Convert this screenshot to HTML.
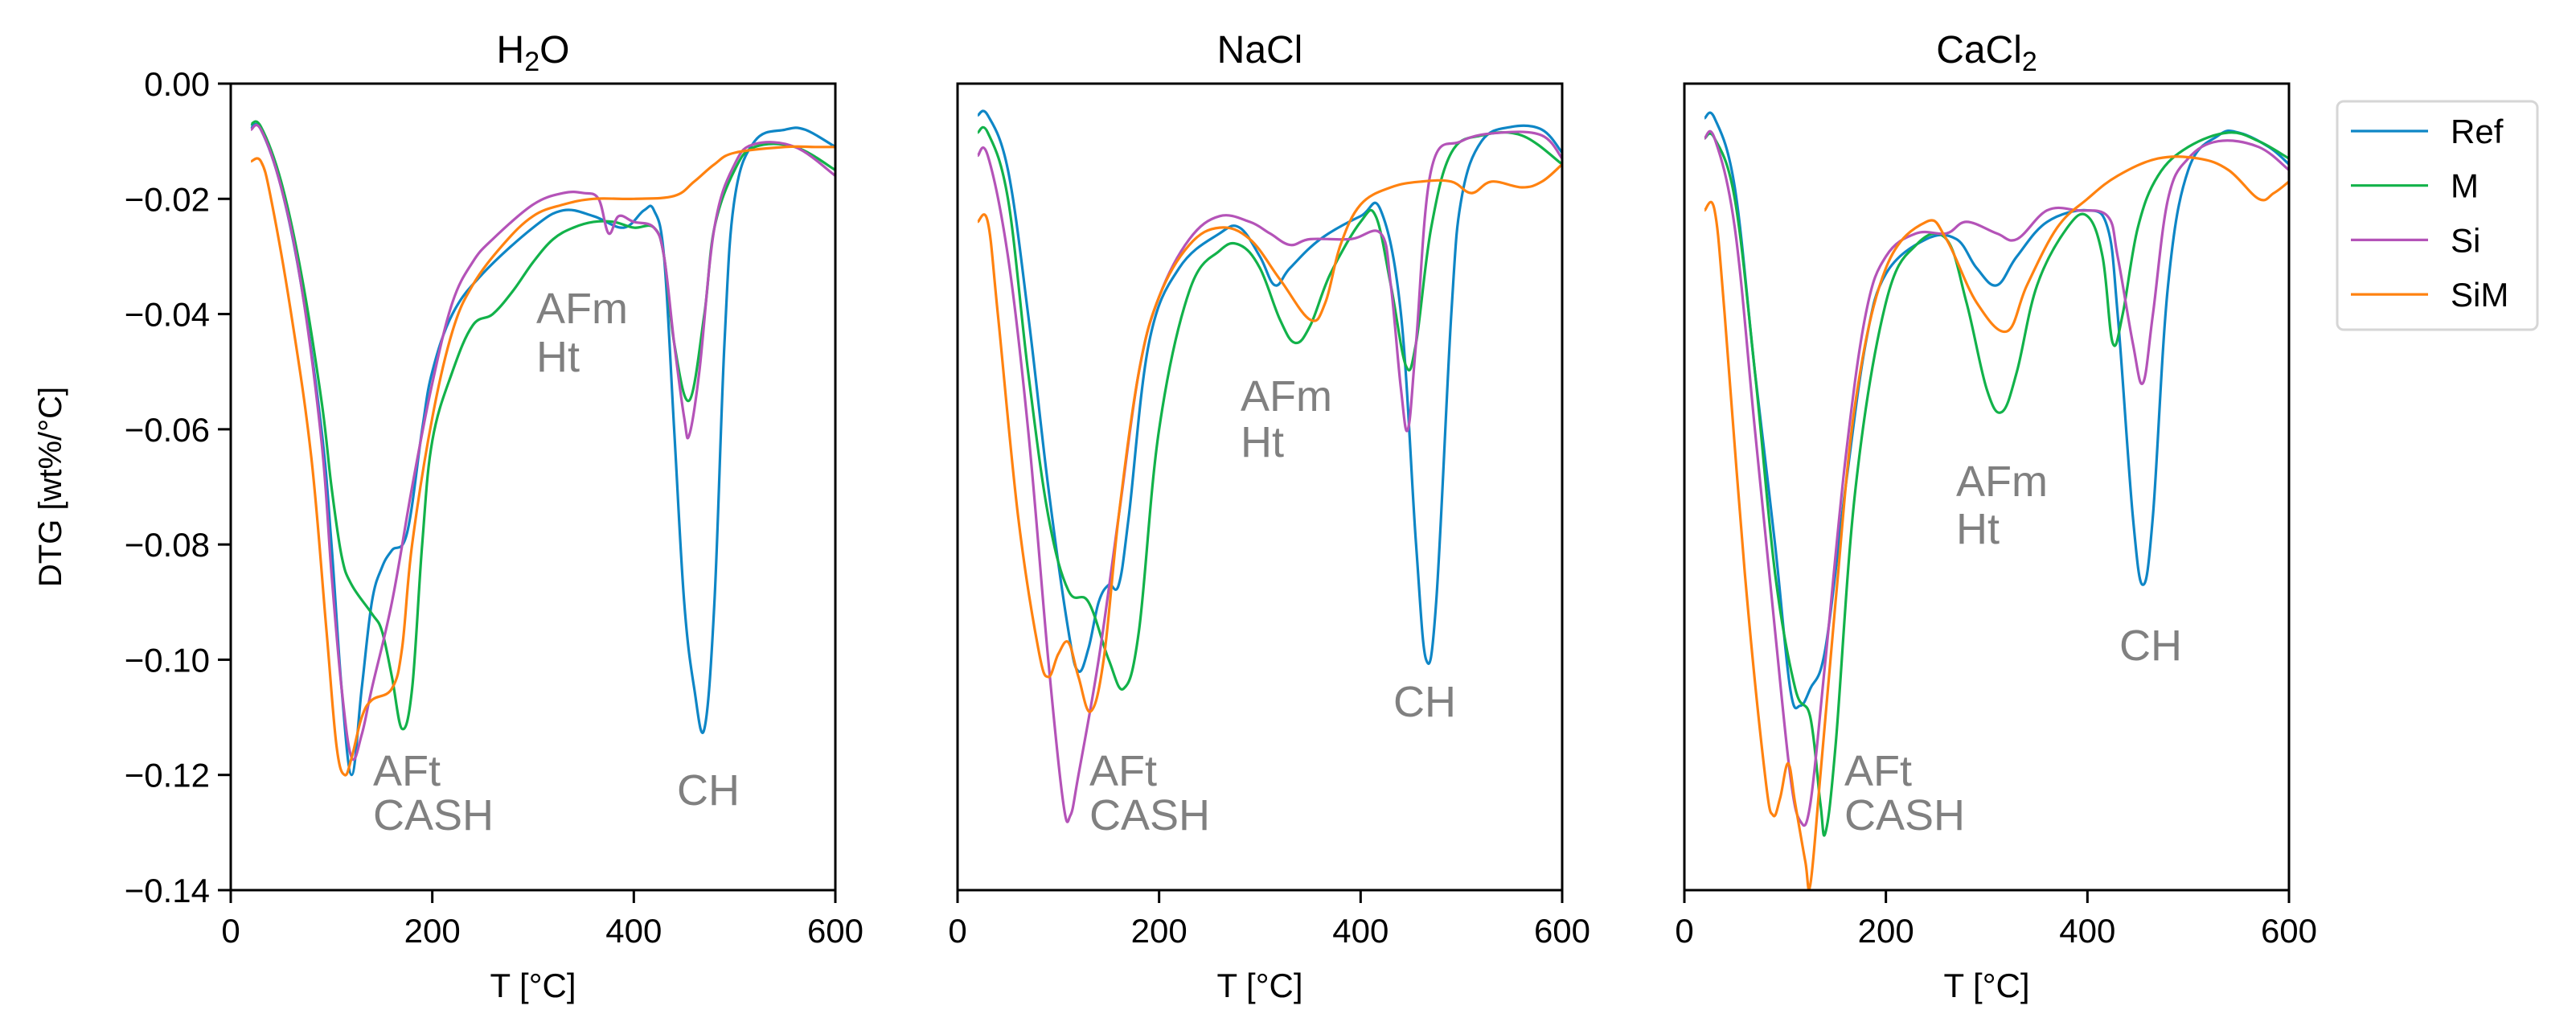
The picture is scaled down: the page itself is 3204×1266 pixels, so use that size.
<!DOCTYPE html>
<html><head><meta charset="utf-8"><style>
body{margin:0;background:#fff}
svg{display:block;font-family:"Liberation Sans","DejaVu Sans",sans-serif}
</style></head><body>
<svg id="chart" width="3204" height="1266" viewBox="0 0 3204 1266" xmlns="http://www.w3.org/2000/svg"></svg>
<script>
const seriesNames=["Ref","M","Si","SiM"];
const seriesColors=["#0e86c6","#12b24a","#b453b8","#ff8210"];
const panelTitles=["H2O","NaCl","CaCl2"];
const xTicks=[0,200,400,600];
const yTicks=[0,-0.02,-0.04,-0.06,-0.08,-0.10,-0.12,-0.14];
const yTickLabels=["0.00","−0.02","−0.04","−0.06","−0.08","−0.10","−0.12","−0.14"];
// H2O
const h2oRef=[[20,-0.0075],[30,-0.008],[50,-0.018],[70,-0.035],[90,-0.06],[100,-0.08],[110,-0.105],[120,-0.12],[130,-0.105],[140,-0.09],[150,-0.084],[160,-0.081],[175,-0.078],[190,-0.06],[200,-0.05],[220,-0.04],[250,-0.033],[300,-0.025],[330,-0.022],[360,-0.023],[390,-0.025],[410,-0.022],[420,-0.022],[430,-0.03],[440,-0.06],[450,-0.09],[460,-0.105],[470,-0.112],[480,-0.09],[490,-0.045],[500,-0.02],[520,-0.01],[550,-0.008],[570,-0.008],[600,-0.011]];
const h2oM=[[20,-0.007],[30,-0.0075],[50,-0.017],[70,-0.033],[90,-0.055],[100,-0.07],[110,-0.082],[120,-0.087],[140,-0.092],[150,-0.095],[160,-0.103],[170,-0.112],[180,-0.105],[190,-0.08],[200,-0.062],[220,-0.05],[240,-0.042],[260,-0.04],[280,-0.036],[300,-0.031],[320,-0.027],[340,-0.025],[360,-0.024],[380,-0.024],[400,-0.025],[420,-0.025],[430,-0.03],[440,-0.045],[455,-0.055],[470,-0.04],[480,-0.025],[500,-0.015],[520,-0.011],[560,-0.011],[600,-0.015]];
const h2oSi=[[20,-0.008],[30,-0.008],[50,-0.018],[70,-0.035],[90,-0.062],[100,-0.085],[110,-0.105],[120,-0.117],[130,-0.113],[140,-0.105],[160,-0.09],[180,-0.07],[200,-0.052],[220,-0.038],[240,-0.031],[260,-0.027],[300,-0.021],[330,-0.019],[350,-0.019],[365,-0.02],[375,-0.026],[385,-0.023],[400,-0.024],[420,-0.025],[430,-0.03],[440,-0.045],[450,-0.058],[455,-0.061],[465,-0.05],[480,-0.025],[500,-0.014],[520,-0.0105],[560,-0.011],[600,-0.016]];
const h2oSiM=[[20,-0.0135],[30,-0.0135],[40,-0.02],[60,-0.04],[80,-0.065],[95,-0.095],[105,-0.115],[113,-0.12],[120,-0.117],[130,-0.11],[140,-0.107],[160,-0.105],[170,-0.098],[180,-0.08],[200,-0.058],[220,-0.043],[240,-0.035],[270,-0.028],[300,-0.023],[330,-0.021],[360,-0.02],[400,-0.02],[440,-0.0195],[460,-0.017],[480,-0.014],[500,-0.012],[550,-0.011],[580,-0.011],[600,-0.011]];
// NaCl
const naclRef=[[20,-0.0055],[30,-0.0055],[50,-0.015],[70,-0.04],[90,-0.07],[110,-0.095],[120,-0.102],[130,-0.098],[140,-0.09],[150,-0.087],[160,-0.087],[170,-0.075],[190,-0.045],[220,-0.032],[260,-0.026],[280,-0.025],[300,-0.03],[315,-0.035],[330,-0.032],[360,-0.027],[400,-0.023],[420,-0.022],[440,-0.04],[455,-0.08],[465,-0.1],[475,-0.09],[490,-0.04],[500,-0.02],[520,-0.01],[550,-0.0075],[580,-0.008],[600,-0.012]];
const naclM=[[20,-0.0085],[30,-0.0085],[50,-0.02],[70,-0.05],[90,-0.075],[110,-0.088],[130,-0.09],[150,-0.1],[165,-0.105],[180,-0.095],[200,-0.06],[230,-0.036],[260,-0.029],[280,-0.028],[300,-0.032],[320,-0.041],[335,-0.045],[350,-0.042],[370,-0.033],[400,-0.024],[415,-0.023],[430,-0.035],[445,-0.049],[455,-0.045],[470,-0.025],[490,-0.012],[520,-0.009],[560,-0.009],[600,-0.014]];
const naclSi=[[20,-0.0125],[30,-0.0125],[50,-0.03],[70,-0.06],[90,-0.1],[105,-0.125],[112,-0.127],[120,-0.12],[140,-0.1],[160,-0.075],[180,-0.05],[200,-0.037],[230,-0.027],[260,-0.023],[290,-0.024],[310,-0.026],[330,-0.028],[350,-0.027],[390,-0.027],[420,-0.026],[430,-0.035],[440,-0.053],[447,-0.06],[455,-0.045],[470,-0.015],[500,-0.01],[540,-0.0085],[580,-0.009],[600,-0.013]];
const naclSiM=[[20,-0.024],[30,-0.024],[40,-0.04],[60,-0.075],[80,-0.098],[90,-0.103],[100,-0.099],[110,-0.097],[120,-0.103],[132,-0.109],[145,-0.1],[160,-0.075],[180,-0.05],[200,-0.037],[230,-0.028],[260,-0.025],[290,-0.027],[320,-0.034],[350,-0.041],[365,-0.038],[380,-0.028],[400,-0.021],[430,-0.018],[460,-0.017],[490,-0.017],[510,-0.019],[530,-0.017],[560,-0.018],[580,-0.017],[600,-0.014]];
// CaCl2
const caclRef=[[20,-0.006],[30,-0.006],[50,-0.018],[70,-0.05],[90,-0.08],[105,-0.105],[115,-0.108],[125,-0.105],[140,-0.098],[160,-0.07],[180,-0.045],[200,-0.033],[240,-0.027],[270,-0.027],[290,-0.032],[310,-0.035],[330,-0.03],[360,-0.024],[400,-0.022],[420,-0.025],[430,-0.04],[445,-0.075],[455,-0.087],[465,-0.075],[480,-0.035],[500,-0.015],[530,-0.009],[550,-0.0085],[580,-0.011],[600,-0.014]];
const caclM=[[20,-0.0095],[30,-0.0095],[50,-0.02],[70,-0.05],[90,-0.085],[110,-0.105],[125,-0.11],[135,-0.125],[140,-0.13],[150,-0.115],[170,-0.07],[200,-0.038],[230,-0.028],[260,-0.027],[280,-0.038],[300,-0.053],[315,-0.057],[330,-0.05],[350,-0.035],[380,-0.025],[400,-0.023],[415,-0.03],[425,-0.045],[435,-0.04],[450,-0.025],[470,-0.016],[500,-0.011],[540,-0.0085],[570,-0.01],[600,-0.013]];
const caclSi=[[20,-0.0095],[30,-0.0095],[50,-0.025],[70,-0.06],[90,-0.095],[105,-0.12],[115,-0.128],[125,-0.125],[140,-0.1],[160,-0.065],[180,-0.04],[200,-0.03],[230,-0.026],[260,-0.026],[280,-0.024],[310,-0.026],[330,-0.027],[360,-0.022],[390,-0.022],[420,-0.023],[430,-0.03],[445,-0.045],[455,-0.052],[465,-0.04],[480,-0.02],[500,-0.013],[530,-0.01],[570,-0.011],[600,-0.015]];
const caclSiM=[[20,-0.022],[30,-0.022],[40,-0.04],[60,-0.085],[80,-0.12],[88,-0.127],[95,-0.124],[103,-0.118],[110,-0.125],[120,-0.135],[125,-0.139],[135,-0.12],[150,-0.09],[170,-0.055],[200,-0.032],[240,-0.024],[260,-0.027],[290,-0.038],[320,-0.043],[340,-0.035],[370,-0.025],[400,-0.02],[430,-0.016],[470,-0.013],[510,-0.013],[540,-0.015],[570,-0.02],[585,-0.019],[600,-0.017]];
const panelData=[[h2oRef,h2oM,h2oSi,h2oSiM],[naclRef,naclM,naclSi,naclSiM],[caclRef,caclM,caclSi,caclSiM]];

const NS="http://www.w3.org/2000/svg";
const svg=document.getElementById('chart');
function mk(tag,attrs,parent,text){const e=document.createElementNS(NS,tag);for(const k in attrs)e.setAttribute(k,attrs[k]);if(text!==undefined)e.textContent=text;(parent||svg).appendChild(e);return e;}
function smoothPath(pts){
  let d='M'+pts[0][0].toFixed(1)+','+pts[0][1].toFixed(1);
  for(let i=0;i<pts.length-1;i++){
    const p0=pts[i-1]||pts[i],p1=pts[i],p2=pts[i+1],p3=pts[i+2]||p2;
    const t=0.18;
    const c1x=p1[0]+(p2[0]-p0[0])*t,c1y=p1[1]+(p2[1]-p0[1])*t;
    const c2x=p2[0]-(p3[0]-p1[0])*t,c2y=p2[1]-(p3[1]-p1[1])*t;
    d+='C'+c1x.toFixed(1)+','+c1y.toFixed(1)+' '+c2x.toFixed(1)+','+c2y.toFixed(1)+' '+p2[0].toFixed(1)+','+p2[1].toFixed(1);
  }
  return d;
}
const panelLeft=[287,1191,2095],PW=752,TOP=104,BOT=1107;
const annots=[
 [[177,977,"AFt"],[177,1032,"CASH"],[380,402,"AFm"],[380,462,"Ht"],[555,1001,"CH"]],
 [[164,977,"AFt"],[164,1032,"CASH"],[352,511,"AFm"],[352,568,"Ht"],[542,891,"CH"]],
 [[199,977,"AFt"],[199,1032,"CASH"],[338,617,"AFm"],[338,676,"Ht"],[541,821,"CH"]]];
panelTitles.forEach((t,p)=>{
  const L=panelLeft[p];
  const xs=v=>L+v/600*PW;
  const ys=v=>TOP+(v/-0.14)*(BOT-TOP);
  const g=mk('g',{});
  
  
  const tt=mk('text',{x:L+PW/2,y:78,'font-size':48,'text-anchor':'middle'},g);
  
  
  if(t==="H2O"){tt.innerHTML='H<tspan font-size="34" dy="10">2</tspan><tspan dy="-10">O</tspan>';}
  else if(t==="CaCl2"){tt.innerHTML='CaCl<tspan font-size="34" dy="10">2</tspan>';}
  else tt.textContent=t;
  panelData[p].forEach((arr,s)=>{
    const pts=arr.map(pt=>[xs(pt[0]),ys(pt[1])]);
    const pa=mk('path',{d:smoothPath(pts),fill:'none',stroke:seriesColors[s],'stroke-width':3.2,'stroke-linejoin':'round'},g);
    
    
  });
  annots[p].forEach(a=>{
    const at=mk('text',{x:L+a[0],y:a[1],'font-size':54,fill:'#808080'},g,a[2]);
    
    
  });
  const fr=mk('rect',{x:L,y:TOP,width:PW,height:BOT-TOP,fill:'none',stroke:'#000','stroke-width':3},g);
  
  
  xTicks.forEach(v=>{
    mk('line',{x1:xs(v),x2:xs(v),y1:BOT,y2:BOT+16,stroke:'#000','stroke-width':3},g);
    const tl=mk('text',{x:xs(v),y:1172,'font-size':42,'text-anchor':'middle'},g,String(v));
    
    
  });
  const xl=mk('text',{x:L+PW/2,y:1240,'font-size':42,'text-anchor':'middle'},g,'T [°C]');
  
  
  if(p===0){
    yTicks.forEach((v,i)=>{
      mk('line',{x1:L-16,x2:L,y1:ys(v),y2:ys(v),stroke:'#000','stroke-width':3},g);
      const yl=mk('text',{x:L-26,y:ys(v)+15,'font-size':42,'text-anchor':'end'},g,yTickLabels[i]);
      
      
    });
    const yt=mk('text',{x:0,y:0,'font-size':40,'text-anchor':'middle',transform:'translate(76,'+((TOP+BOT)/2)+') rotate(-90)'},g,'DTG [wt%/°C]');
    
    
  }
});
const lg=mk('g',{});


mk('rect',{x:2907,y:126,width:249,height:284,rx:8,fill:'#fff',stroke:'#d6d6d6','stroke-width':3},lg);
seriesNames.forEach((n,i)=>{
  const y=163+i*67.7;
  const e=mk('g',{},lg);
  
  
  mk('line',{x1:2924,x2:3020,y1:y,y2:y,stroke:seriesColors[i],'stroke-width':3.2},e);
  mk('text',{x:3048,y:y+15,'font-size':42},e,n);
});
</script>
</body></html>
